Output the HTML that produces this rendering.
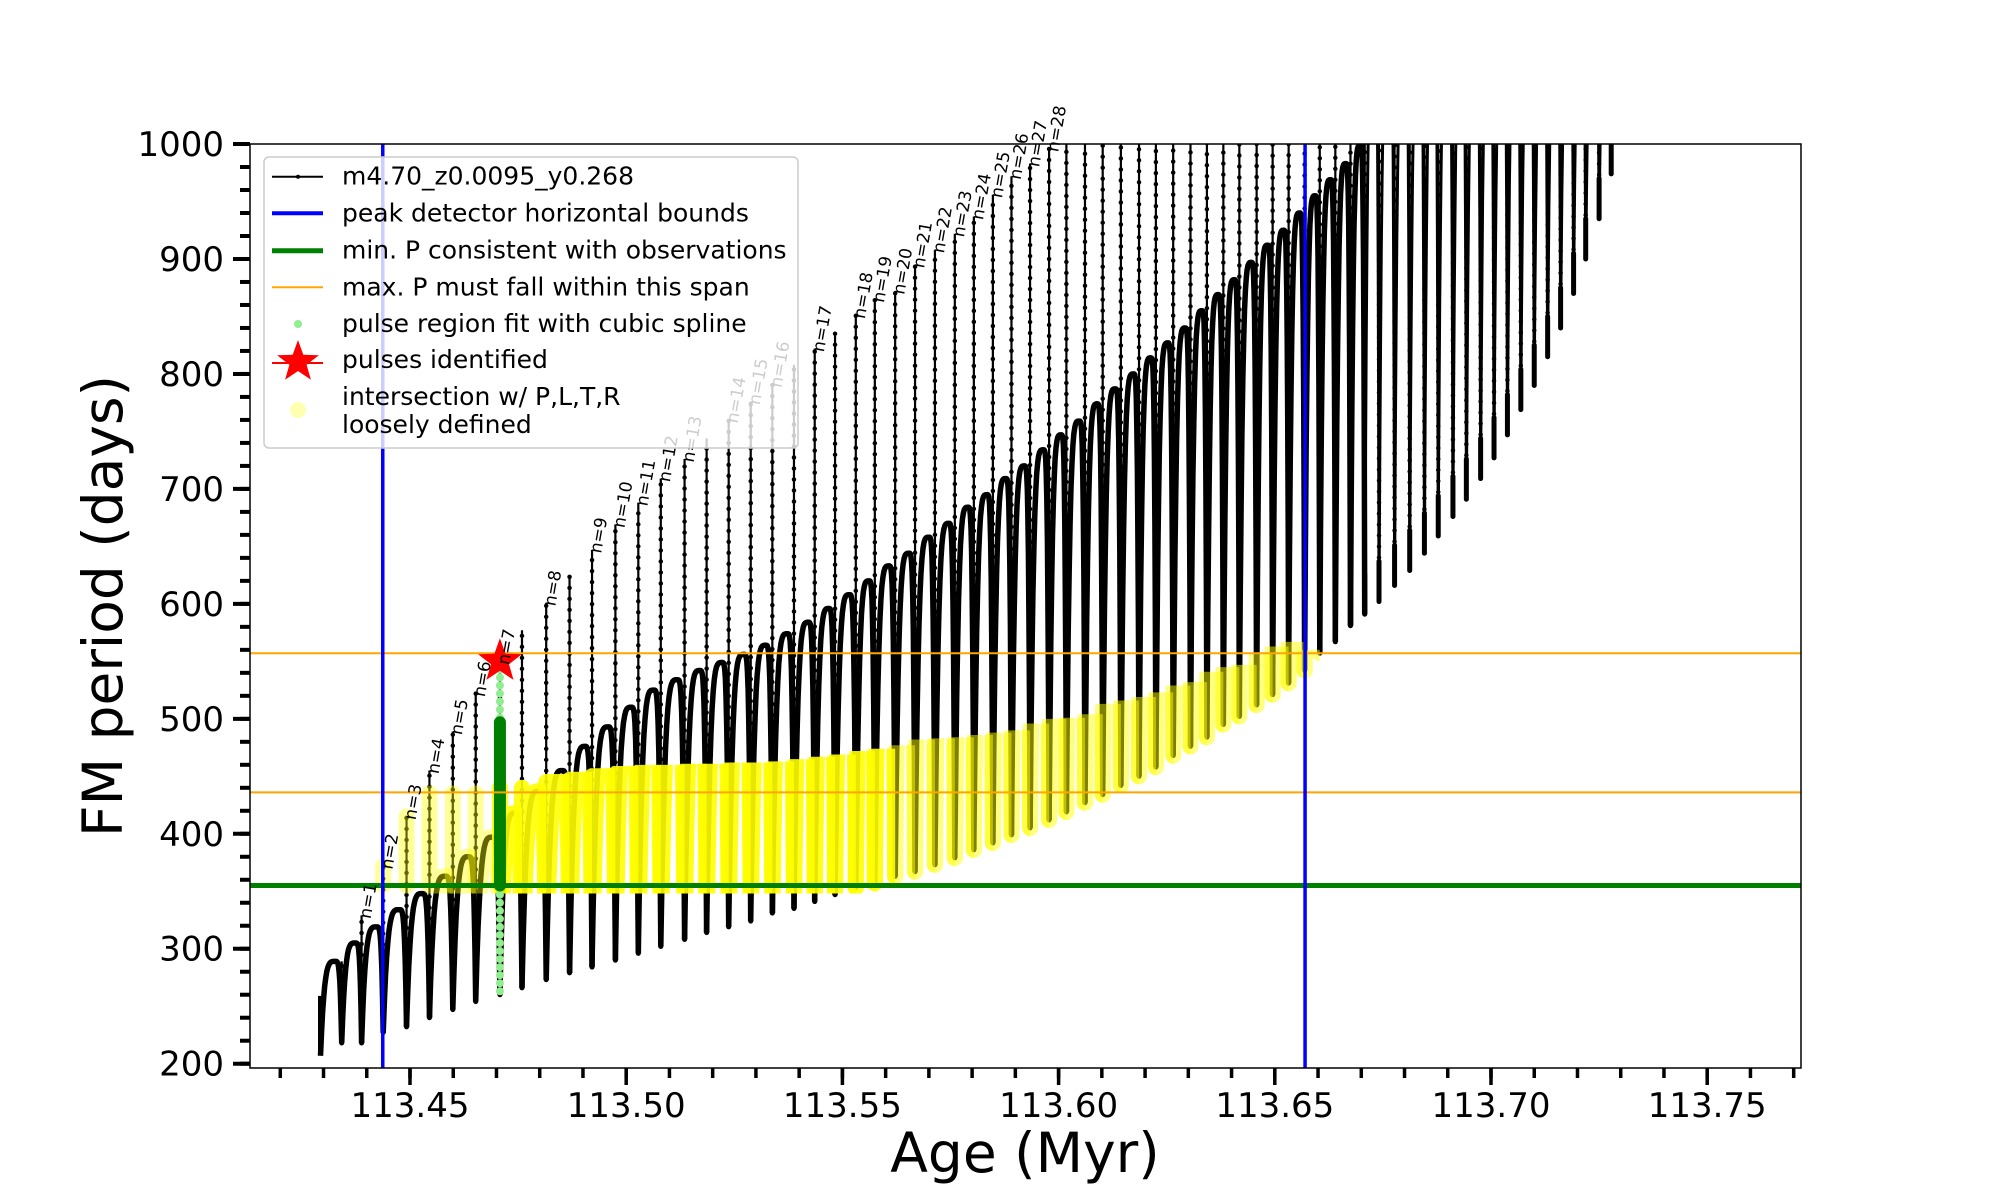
<!DOCTYPE html>
<html><head><meta charset="utf-8"><style>
html,body{margin:0;padding:0;background:#fff;}
svg{display:block;font-family:"DejaVu Sans","Liberation Sans",sans-serif;}
</style></head><body>
<svg id="chart" xmlns="http://www.w3.org/2000/svg" width="2000" height="1200" viewBox="0 0 2000 1200">
<defs><clipPath id="axclip"><rect x="250" y="144" width="1551" height="924"/></clipPath></defs>
<rect x="0" y="0" width="2000" height="1200" fill="#fff"/>
<g id="plot" clip-path="url(#axclip)"></g>
<g id="axes"></g>
</svg>
<script>
const ages=[113.4293,113.4342,113.4388,113.4438,113.4492,113.4545,113.4599,113.4652,113.4708,113.4759,113.4815,113.4869,113.4921,113.4975,113.5028,113.5080,113.5135,113.5186,113.5237,113.5288,113.5338,113.5388,113.5436,113.5483,113.5531,113.5575,113.5622,113.5668,113.5714,113.5760,113.5804,113.5848,113.5891,113.5934,113.5978,113.6018,113.6061,113.6102,113.6144,113.6186,113.6225,113.6265,113.6305,113.6343,113.6381,113.6418,113.6458,113.6495,113.6532,113.6569,113.6604,113.6640,113.6675,113.6708,113.6741,113.6777,113.6812,113.6846,113.6878,113.6912,113.6943,113.6976,113.7007,113.7038,113.7069,113.7100,113.7131,113.7161,113.7191,113.7219,113.7250,113.7278];
const troughs=[207,218,218,227,232,240,247,254,260,266,273,279,284,290,296,302,308,314,319,324,331,335,341,347,353,357,363,367,373,379,386,392,399,405,412,419,427,434,442,450,458,468,476,484,495,502,512,521,531,542,557,567,581,591,602,616,629,644,659,676,691,709,727,747,769,790,815,840,870,900,935,974];
const peaks=[259,289,329,372,415,455,489,522,550,577,601,625,647,669,688,709,726,744,760,776,791,808,822,835,851,865,872,895,908,922,937,956,972,983,996,1100,1100,1100,1100,1100,1100,1100,1100,1100,1100,1100,1100,1100,1100,1100,1100,1100,1100,1100,1100,1100,1100,1100,1100,1100,1100,1100,1100,1100,1100,1100,1100,1100,1100,1100,1100,1100];
const arcTops=[289,305,319,334,348,363,380,397,418,437,455,476,493,510,525,534,542,549,556,564,574,584,596,608,620,633,644,658,670,684,695,709,720,734,747,759,774,787,800,814,827,840,855,869,882,897,912,925,940,955,969,983,999,1100,1100,1100,1100,1100,1100,1100,1100,1100,1100,1100,1100,1100,1100,1100,1100,1100,1100,0];
const yellowTops=[0,0,0,375,415,435,435,435,440,440,445,447,450,452,453,453,454,454,455,455,456,458,460,462,465,467,470,475,476,477,479,481,483,489,493,494,497,506,509,512,516,522,525,534,538,540,550,556,560,553,0,0,0,0,0,0,0,0,0,0,0,0,0,0,0,0,0,0,0,0,0,0];
const labelN=[1,2,3,4,5,6,7,8,9,10,11,12,13,14,15,16,17,18,19,20,21,22,23,24,25,26,27,28];
const labelIdx=[2,3,4,5,6,7,8,10,12,13,14,15,16,18,19,20,22,24,25,26,27,28,29,30,31,32,33,34];
const xTicks=[113.45,113.50,113.55,113.60,113.65,113.70,113.75];
const xTickLabels=["113.45","113.50","113.55","113.60","113.65","113.70","113.75"];
const yTicks=[200,300,400,500,600,700,800,900,1000];
const minP=355, maxPLow=436, maxPHigh=557;
const boundLeft=113.4437, boundRight=113.657;
const pulseIdx=8, pulseStarP=550, splineTopP=545, splineDarkLow=355, splineDarkHigh=497;

const NS="http://www.w3.org/2000/svg";
const X=a=>410+(a-113.45)*4324;
const Y=p=>1063.7-(p-200)*1.1496;
const plot=document.getElementById('plot'), axes=document.getElementById('axes'), svg=document.getElementById('chart');
function mk(tag,attrs,parent){const e=document.createElementNS(NS,tag);for(const k in attrs)e.setAttribute(k,attrs[k]);(parent||plot).appendChild(e);return e;}

function arcPath(i){
  const xi=X(ages[i]);
  if(i>=ages.length-1) return '';
  const xn=X(ages[i+1]), w=xn-xi, yT=Y(troughs[i]), yA=Y(arcTops[i]), yN=Y(troughs[i+1]);
  let d='M'+xi.toFixed(1)+' '+yT.toFixed(1);
  for(let k=1;k<=14;k++){const t=k/14;d+=' L'+(xi+0.7*w*t).toFixed(1)+' '+(yT+(yA-yT)*(1-Math.pow(1-t,4))).toFixed(1);}
  for(let k=1;k<=10;k++){const s=k/10;d+=' L'+(xi+0.7*w+0.3*w*s).toFixed(1)+' '+(yA+(yN-yA)*Math.pow(s,4)).toFixed(1);}
  return d;
}
// black track
for(let i=0;i<ages.length;i++){
  const xi=X(ages[i]);
  if(i===0){const s=mk('line',{x1:xi,y1:Y(peaks[0]),x2:xi,y2:Y(troughs[0]),stroke:'#000','stroke-width':5});
    }
  else{
    const sp=mk('line',{x1:xi,y1:Y(troughs[i]),x2:xi,y2:Y(peaks[i]),stroke:'#000','stroke-width':2.2});
    
    const dt=mk('line',{x1:xi,y1:Y(troughs[i]),x2:xi,y2:Y(peaks[i]),stroke:'#000','stroke-width':4.5,'stroke-linecap':'round','stroke-dasharray':'0 11'});
    
    const lo=mk('line',{x1:xi,y1:Y(troughs[i]),x2:xi,y2:Y(Math.min(peaks[i],troughs[i]+35)),stroke:'#000','stroke-width':5,'stroke-linecap':'round'});
    
  }
  const d=arcPath(i);
  if(d){const p=mk('path',{d:d,fill:'none',stroke:'#000','stroke-width':arcTops[i]>1000?3:5.5,'stroke-linejoin':'round'});
    }
}
// yellow intersection
const defs=svg.querySelector('defs');
for(let i=0;i<ages.length;i++){
  if(!yellowTops[i])continue;
  const xi=X(ages[i]), xn=i<ages.length-1?X(ages[i+1]):xi+20;
  const cp=document.createElementNS(NS,'clipPath');cp.setAttribute('id','yc'+i);
  const r=document.createElementNS(NS,'rect');
  r.setAttribute('x',xi-10);r.setAttribute('width',xn-xi+10);
  r.setAttribute('y',Y(yellowTops[i])-8);r.setAttribute('height',Y(minP)-Y(yellowTops[i])+16);
  cp.appendChild(r);defs.appendChild(cp);
  const op=i<=7?0.4:(i<=25?0.9:0.5);
  const g=mk('g',{'clip-path':'url(#yc'+i+')',opacity:op});
  
  const lo=Math.max(troughs[i],minP);
  mk('line',{x1:xi,y1:Y(lo),x2:xi,y2:Y(Math.min(yellowTops[i],peaks[i])),stroke:'#ffff00','stroke-width':16,'stroke-linecap':'round'},g);
  if(i>=5){const d=arcPath(i);if(d)mk('path',{d:d,fill:'none',stroke:'#ffff00','stroke-width':16,'stroke-linejoin':'round','stroke-linecap':'round'},g);}
}
// spline pulse
const xp=X(ages[pulseIdx]);
const lg=mk('g',{});
for(let p=troughs[pulseIdx]+3;p<=splineTopP;p+=7){mk('circle',{cx:xp,cy:Y(p),r:4,fill:'#90ee90'},lg);}
const dg=mk('line',{x1:xp,y1:Y(splineDarkLow),x2:xp,y2:Y(splineDarkHigh),stroke:'#008000','stroke-width':12,'stroke-linecap':'round'});

// reference lines
function hline(p,col,w,name){const l=mk('line',{x1:250,x2:1801,y1:Y(p),y2:Y(p),stroke:col,'stroke-width':w});}
function vline(a,name){const l=mk('line',{x1:X(a),x2:X(a),y1:144,y2:1068,stroke:'#0000ff','stroke-width':3.5});}
hline(maxPHigh,'#ffa500',2,'max-period-upper');
hline(maxPLow,'#ffa500',2,'max-period-lower');
hline(minP,'#008000',5,'min-period-line');
vline(boundLeft,'left-bound');
vline(boundRight,'right-bound');
// star
function starPts(cx,cy,R,r){let s='';for(let k=0;k<10;k++){const a=-Math.PI/2+k*Math.PI/5;const rr=k%2?r:R;s+=(cx+rr*Math.cos(a)).toFixed(1)+','+(cy+rr*Math.sin(a)).toFixed(1)+' ';}return s;}
const st=mk('polygon',{points:starPts(xp,Y(pulseStarP),23,9.5),fill:'#ff0000'});

// n labels
for(let k=0;k<labelN.length;k++){
  const i=labelIdx[k];const x=X(ages[i])+9, y=Y(Math.min(peaks[i],1000))+4;
  const t=mk('text',{x:x,y:y,transform:'rotate(-80 '+x+' '+y+')','font-size':17,fill:'#000'},axes);
  t.textContent='n='+labelN[k];
  
}
// axes frame
const fr=mk('rect',{x:250,y:144,width:1551,height:924,fill:'none',stroke:'#000','stroke-width':1.5},axes);

for(let v=113.42;v<=113.7705;v+=0.01){const x=X(v);if(x<252||x>1800)continue;
  const m=mk('line',{x1:x,x2:x,y1:1068,y2:1078,stroke:'#000','stroke-width':3.5},axes);}
for(let k=0;k<xTicks.length;k++){const x=X(xTicks[k]);
  const m=mk('line',{x1:x,x2:x,y1:1068,y2:1085,stroke:'#000','stroke-width':3.5},axes);
  const t=mk('text',{x:x,y:1117,'text-anchor':'middle','font-size':34,fill:'#000'},axes);t.textContent=xTickLabels[k];}
for(let v=200;v<=1000;v+=20){const y=Y(v);
  const m=mk('line',{x1:240,x2:250,y1:y,y2:y,stroke:'#000','stroke-width':4},axes);}
for(const v of yTicks){const y=Y(v);
  const m=mk('line',{x1:233,x2:250,y1:y,y2:y,stroke:'#000','stroke-width':4},axes);
  const t=mk('text',{x:224,y:y+12,'text-anchor':'end','font-size':34,fill:'#000'},axes);t.textContent=String(v);}
const xt=mk('text',{x:1025,y:1172,'text-anchor':'middle','font-size':55,fill:'#000'},axes);xt.textContent='Age (Myr)';
const yt=mk('text',{x:122,y:606,'text-anchor':'middle','font-size':55,fill:'#000',transform:'rotate(-90 122 606)'},axes);yt.textContent='FM period (days)';
// legend
const L=mk('g',{},axes);
mk('rect',{x:264,y:157,width:534,height:291,rx:5,fill:'#fff','fill-opacity':0.8,stroke:'#ccc','stroke-width':1.5},L);
const rows=[176.7,213.3,250.7,287.3,324,360,410];
const texts=['m4.70_z0.0095_y0.268','peak detector horizontal bounds','min. P consistent with observations','max. P must fall within this span','pulse region fit with cubic spline','pulses identified'];
const names=['legend-entry-model','legend-entry-bounds','legend-entry-min-p','legend-entry-max-p','legend-entry-spline','legend-entry-pulses'];
for(let k=0;k<texts.length;k++){const t=mk('text',{x:342,y:rows[k]+8,'font-size':25,fill:'#000'},L);t.textContent=texts[k];}
const t7=mk('text',{x:342,y:397+8,'font-size':25,fill:'#000'},L);t7.textContent='intersection w/ P,L,T,R';
const t8=mk('text',{x:342,y:425+8,'font-size':25,fill:'#000'},L);t8.textContent='loosely defined';
mk('line',{x1:272,x2:323,y1:rows[0],y2:rows[0],stroke:'#000','stroke-width':2},L);
mk('circle',{cx:298,cy:rows[0],r:2,fill:'#000'},L);
mk('line',{x1:272,x2:323,y1:rows[1],y2:rows[1],stroke:'#0000ff','stroke-width':4},L);
mk('line',{x1:272,x2:323,y1:rows[2],y2:rows[2],stroke:'#008000','stroke-width':5},L);
mk('line',{x1:272,x2:323,y1:rows[3],y2:rows[3],stroke:'#ffa500','stroke-width':2},L);
mk('circle',{cx:298,cy:rows[4],r:4,fill:'#90ee90'},L);
mk('polygon',{points:starPts(298,rows[5]+2,22,9),fill:'#ff0000'},L);
mk('line',{x1:272,x2:323,y1:rows[5]+3,y2:rows[5]+3,stroke:'#ff0000','stroke-width':2},L);
mk('circle',{cx:298,cy:rows[6],r:8,fill:'#ffff00','fill-opacity':0.3},L);
</script>
</body></html>
